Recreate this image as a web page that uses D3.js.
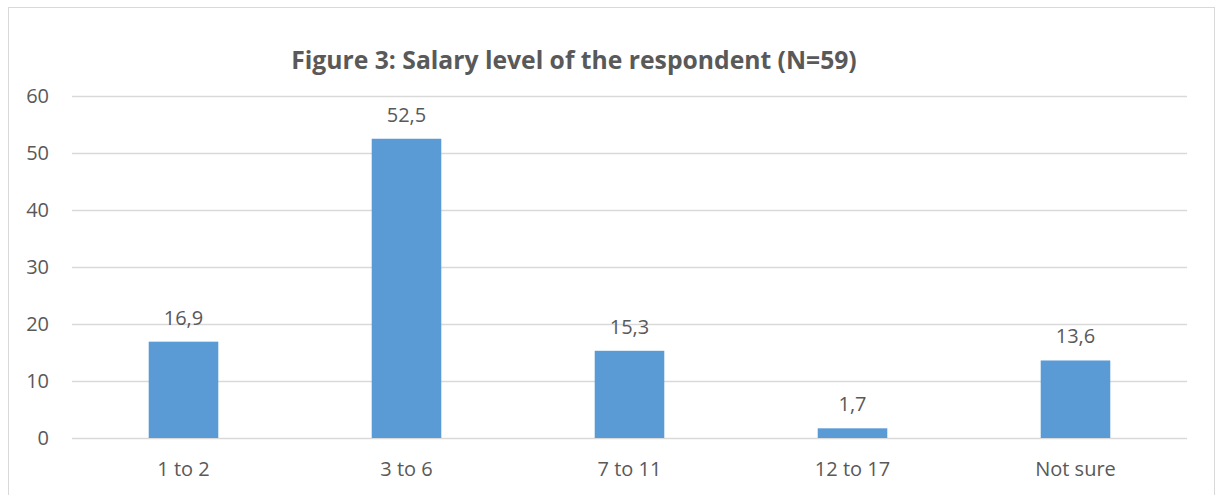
<!DOCTYPE html>
<html>
<head>
<meta charset="utf-8">
<script src="https://cdn.jsdelivr.net/npm/d3@7"></script>
<style>
  body { margin: 0; background: #fff; }
  svg text { font-family: "Open Sans", sans-serif; fill: #595959; }
</style>
</head>
<body>
<div id="chart"></div>
<script>
// chart data
var categories = ["1 to 2", "3 to 6", "7 to 11", "12 to 17", "Not sure"];
var values = [16.9, 52.5, 15.3, 1.7, 13.6];
var yTicks = [0, 10, 20, 30, 40, 50, 60];
var title = "Figure 3: Salary level of the respondent (N=59)";

var svgWidth = 1216;
var svgHeight = 495;
var margin = {top: 96, right: 29, bottom: 57, left: 72};

var svg = d3.select("#chart")
	.append("svg")
	.attr("width", svgWidth)
	.attr("height", svgHeight);

// outer frame
svg.append("rect")
	.attr("x", 8.5)
	.attr("y", 7.5)
	.attr("width", 1206)
	.attr("height", 500)
	.attr("fill", "none")
	.attr("stroke", "#d9d9d9");

var xScale = d3.scaleBand()
	.domain(categories)
	.range([margin.left, svgWidth - margin.right])
	.paddingInner(0.688)
	.paddingOuter(0.344);

var yScale = d3.scaleLinear()
	.domain([0, 60])
	.range([svgHeight - margin.bottom, margin.top]);

// gridlines
svg.append("g")
	.selectAll("line")
	.data(yTicks)
	.enter()
	.append("line")
	.attr("x1", margin.left)
	.attr("x2", svgWidth - margin.right)
	.attr("y1", function(d){ return Math.round(yScale(d)) + 0.5; })
	.attr("y2", function(d){ return Math.round(yScale(d)) + 0.5; })
	.attr("stroke", "#d9d9d9")
	.attr("stroke-width", 1.5);

// y axis labels
svg.append("g")
	.selectAll("text")
	.data(yTicks)
	.enter()
	.append("text")
	.attr("x", 49)
	.attr("y", function(d){ return yScale(d) + 7; })
	.attr("text-anchor", "end")
	.style("font-size", "20px")
	.text(function(d){ return d; });

// bars
svg.selectAll("rect.bar")
	.data(values)
	.enter()
	.append("rect")
	.attr("class", "bar")
	.attr("x", function(d, i){ return xScale(categories[i]); })
	.attr("y", function(d){ return yScale(d); })
	.attr("width", xScale.bandwidth())
	.attr("height", function(d){ return yScale(0) - yScale(d); })
	.attr("fill", "#5b9bd5");

// value labels
svg.selectAll("text.value")
	.data(values)
	.enter()
	.append("text")
	.attr("class", "value")
	.attr("x", function(d, i){ return xScale(categories[i]) + xScale.bandwidth() / 2; })
	.attr("y", function(d){ return yScale(d) - 17; })
	.attr("text-anchor", "middle")
	.style("font-size", "20px")
	.text(function(d){ return String(d).replace(".", ","); });

// category labels
svg.selectAll("text.cat")
	.data(categories)
	.enter()
	.append("text")
	.attr("class", "cat")
	.attr("x", function(d){ return xScale(d) + xScale.bandwidth() / 2; })
	.attr("y", 476)
	.attr("text-anchor", "middle")
	.style("font-size", "20px")
	.text(function(d){ return d; });

// title
svg.append("text")
	.attr("x", 574)
	.attr("y", 69)
	.attr("text-anchor", "middle")
	.style("font-size", "24.7px")
	.style("font-weight", "bold")
	.text(title);
</script>
</body>
</html>
